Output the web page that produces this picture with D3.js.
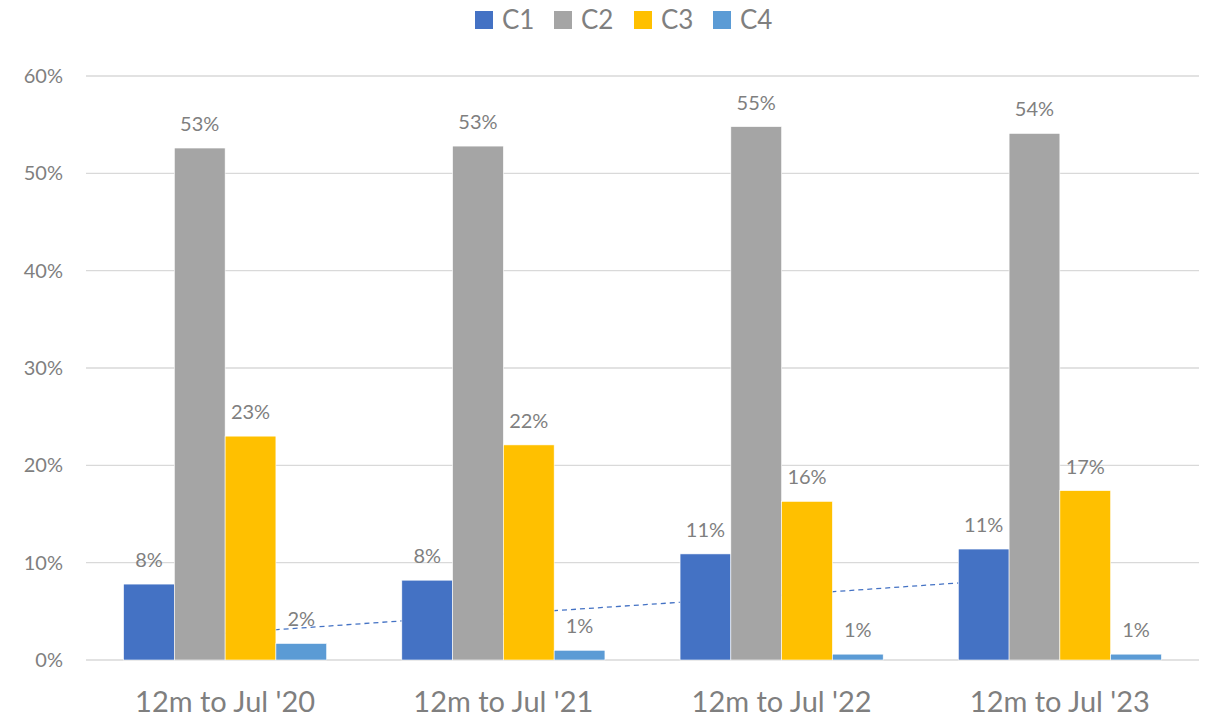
<!DOCTYPE html>
<html><head><meta charset="utf-8">
<script src="https://cdn.jsdelivr.net/npm/d3@7"></script>
<style>html,body{margin:0;padding:0;background:#fff;}</style>
</head><body>
<svg id="chart" width="1206" height="719"></svg>
<script>
const categories = ["12m to Jul '20", "12m to Jul '21", "12m to Jul '22", "12m to Jul '23"];
const seriesNames = ["C1", "C2", "C3", "C4"];
const c1 = [7.8, 8.2, 10.9, 11.4];
const c2 = [52.6, 52.8, 54.8, 54.1];
const c3 = [23.0, 22.1, 16.3, 17.4];
const c4 = [1.7, 1.0, 0.6, 0.6];
const c1Trend = [2.2, 4.2, 6.1, 8.1];
const yTicks = [0, 10, 20, 30, 40, 50, 60];
const colors = ["#4472C4", "#A5A5A5", "#FFC000", "#5B9BD5"];

(function () {
const seriesValues = [c1, c2, c3, c4];
const font = "Lato, 'Liberation Sans', sans-serif";
const textColor = "#7F7F7F";
const svg = d3.select("#chart");
const pLeft = 86, pRight = 1199, pTop = 76, pBottom = 660;

const x0 = d3.scaleBand().domain(categories).range([pLeft, pRight]).paddingInner(0.27).paddingOuter(0.135);
const x1 = d3.scaleBand().domain(seriesNames).range([0, x0.bandwidth()]).padding(0);
const y = d3.scaleLinear().domain([0, 60]).range([pBottom, pTop]);

// gridlines
svg.append("g").selectAll("line").data(yTicks).join("line")
  .attr("x1", pLeft).attr("x2", pRight)
  .attr("y1", d => y(d)).attr("y2", d => y(d))
  .attr("stroke", "#D9D9D9").attr("stroke-width", 1.3);

// y tick labels
svg.append("g").selectAll("text").data(yTicks).join("text")
  .attr("x", 63).attr("y", d => y(d) + 7)
  .attr("text-anchor", "end")
  .attr("font-family", font).attr("font-size", 20).attr("fill", textColor)
  .text(d => d + "%");

// trendline (behind bars)
svg.append("path")
  .datum(c1Trend.map((v, i) => [x0(categories[i]) + x1("C1") + x1.bandwidth() / 2, y(v)]))
  .attr("d", d3.line())
  .attr("fill", "none").attr("stroke", "#4472C4").attr("stroke-width", 1.3)
  .attr("stroke-dasharray", "5,4");

// bars
const groups = svg.append("g").selectAll("g").data(categories).join("g")
  .attr("transform", d => `translate(${x0(d)},0)`);

groups.selectAll("rect").data((d, i) => seriesNames.map((s, j) => ({s, v: seriesValues[j][i], j})))
  .join("rect")
  .attr("x", d => x1(d.s)).attr("width", x1.bandwidth())
  .attr("y", d => y(d.v)).attr("height", d => y(0) - y(d.v))
  .attr("fill", d => colors[d.j])
  .attr("stroke", "#fff").attr("stroke-width", 0.6);

groups.selectAll("text").data((d, i) => seriesNames.map((s, j) => ({s, v: seriesValues[j][i], j})))
  .join("text")
  .attr("x", d => x1(d.s) + x1.bandwidth() / 2)
  .attr("y", d => y(d.v) - 17)
  .attr("text-anchor", "middle")
  .attr("font-family", font).attr("font-size", 20).attr("fill", textColor)
  .text(d => Math.round(d.v) + "%");

// category labels
svg.append("g").selectAll("text").data(categories).join("text")
  .attr("x", d => x0(d) + x0.bandwidth() / 2).attr("y", 712)
  .attr("text-anchor", "middle")
  .attr("font-family", font).attr("font-size", 29).attr("fill", textColor)
  .text(d => d);

// legend
const legend = svg.append("g");
const itemX = [475, 554, 634, 713];
seriesNames.forEach((s, i) => {
  legend.append("rect").attr("x", itemX[i]).attr("y", 11).attr("width", 18).attr("height", 18).attr("fill", colors[i]);
  legend.append("text").attr("x", itemX[i] + 27).attr("y", 29)
    .attr("font-family", font).attr("font-size", 26).attr("fill", textColor).text(s);
});
})();
</script>
</body></html>
